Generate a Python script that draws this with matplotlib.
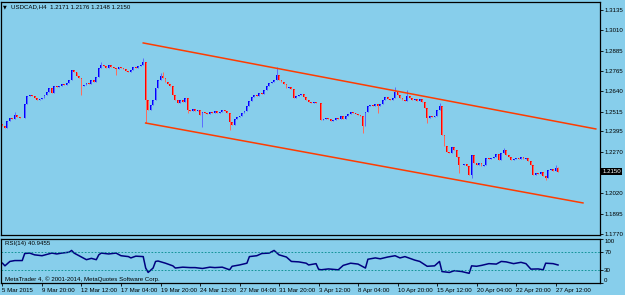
import numpy as np
import matplotlib.pyplot as plt
import matplotlib.transforms as mtransforms

# USDCAD H4 closes, one per bar (5 Mar 2015 .. 27 Apr 2015)
closes = [
    1.2428, 1.2416, 1.2458, 1.2477, 1.2470, 1.2495, 1.2483, 1.2477, 1.2477, 1.2562,
    1.2610, 1.2616, 1.2610, 1.2598, 1.2586, 1.2592, 1.2598, 1.2616, 1.2635, 1.2659,
    1.2629, 1.2671, 1.2665, 1.2671, 1.2683, 1.2677, 1.2689, 1.2708, 1.2768, 1.2756,
    1.2732, 1.2720, 1.2671, 1.2677, 1.2689, 1.2683, 1.2708, 1.2695, 1.2726, 1.2781,
    1.2799, 1.2793, 1.2781, 1.2799, 1.2787, 1.2781, 1.2774, 1.2787, 1.2781, 1.2774,
    1.2762, 1.2756, 1.2768, 1.2787, 1.2781, 1.2793, 1.2799, 1.2817, 1.2586, 1.2525,
    1.2556, 1.2586, 1.2659, 1.2708, 1.2732, 1.2720, 1.2695, 1.2683, 1.2671, 1.2616,
    1.2586, 1.2568, 1.2586, 1.2574, 1.2598, 1.2525, 1.2519, 1.2531, 1.2519, 1.2525,
    1.2495, 1.2513, 1.2507, 1.2501, 1.2513, 1.2507, 1.2519, 1.2507, 1.2513, 1.2525,
    1.2519, 1.2507, 1.2452, 1.2434, 1.2470, 1.2483, 1.2489, 1.2507, 1.2519, 1.2550,
    1.2580, 1.2604, 1.2616, 1.2610, 1.2629, 1.2622, 1.2647, 1.2671, 1.2689, 1.2695,
    1.2708, 1.2738, 1.2708, 1.2695, 1.2683, 1.2659, 1.2665, 1.2653, 1.2598, 1.2610,
    1.2616, 1.2622, 1.2604, 1.2586, 1.2574, 1.2568, 1.2574, 1.2568, 1.2568, 1.2464,
    1.2470, 1.2477, 1.2470, 1.2458, 1.2464, 1.2477, 1.2470, 1.2489, 1.2470, 1.2489,
    1.2501, 1.2513, 1.2507, 1.2501, 1.2495, 1.2489, 1.2428, 1.2513, 1.2550, 1.2556,
    1.2550, 1.2562, 1.2550, 1.2562, 1.2586, 1.2604, 1.2592, 1.2586, 1.2598, 1.2635,
    1.2616, 1.2598, 1.2586, 1.2580, 1.2610, 1.2598, 1.2586, 1.2592, 1.2580, 1.2592,
    1.2574, 1.2537, 1.2477, 1.2489, 1.2483, 1.2489, 1.2525, 1.2550, 1.2373, 1.2306,
    1.2270, 1.2264, 1.2300, 1.2282, 1.2239, 1.2191, 1.2191, 1.2197, 1.2185, 1.2130,
    1.2252, 1.2203, 1.2191, 1.2203, 1.2185, 1.2191, 1.2233, 1.2227, 1.2233, 1.2239,
    1.2258, 1.2221, 1.2264, 1.2282, 1.2252, 1.2239, 1.2221, 1.2227, 1.2233, 1.2227,
    1.2239, 1.2227, 1.2233, 1.2215, 1.2191, 1.2130, 1.2142, 1.2136, 1.2148, 1.2124,
    1.2112, 1.2160, 1.2166, 1.2154, 1.2171, 1.2150,
]
first_open = 1.2440

# bars whose high / low reach beyond the body
hi_bars = [5, 40, 57, 64, 65, 111, 159, 164, 177, 203, 224, 225]
hi_vals = [1.2513, 1.2817, 1.2841, 1.2750, 1.2756, 1.2787, 1.2665, 1.2647, 1.2568, 1.2294, 1.2191, 1.2176]
lo_bars = [32, 46, 58, 75, 81, 92, 146, 152, 172, 185, 190, 220, 225]
lo_vals = [1.2616, 1.2738, 1.2446, 1.2507, 1.2422, 1.2404, 1.2385, 1.2507, 1.2446, 1.2142, 1.2112, 1.2100, 1.2148]

# channel lines
up_bars = [57, 240.3]
up_vals = [1.2933, 1.2410]
lo_line_bars = [58, 235.1]
lo_line_vals = [1.2446, 1.1960]

# RSI(14)
rsi_bar = [0, 1, 3, 5, 8, 9, 11, 13, 16, 20, 22, 24, 27, 28, 29, 32, 34, 36, 38, 39,
           40, 43, 46, 48, 51, 52, 54, 57, 58, 59, 61, 62, 63, 66, 69, 70, 73, 76, 78, 81,
           84, 86, 89, 92, 93, 96, 99, 100, 103, 105, 108, 110, 112, 115, 117, 120, 123, 124, 127, 128,
           129, 132, 136, 138, 141, 144, 147, 148, 151, 153, 156, 159, 161, 163, 167, 169, 172, 175, 177, 178,
           181, 183, 186, 189, 190, 192, 194, 197, 200, 202, 204, 207, 210, 212, 214, 217, 219, 220, 223, 225]
rsi_val = [45, 39, 49, 51, 51, 67, 68, 64, 62, 68, 66, 68, 70, 74, 68, 59, 53, 56, 53, 64,
           68, 66, 68, 62, 60, 57, 61, 60, 34, 24, 34, 49, 50, 45, 39, 34, 36, 35, 35, 33,
           36, 35, 36, 30, 38, 41, 45, 60, 62, 67, 68, 74, 64, 59, 49, 48, 45, 41, 44, 31.5,
           30, 32, 30, 40, 45, 43, 34, 54, 57, 55, 59, 62, 57, 60, 52, 49, 38, 39, 49, 26,
           24, 28, 26, 22, 39, 38, 40, 44, 43, 49, 48, 44, 47, 44, 31.5, 32, 30, 45, 44, 40.9455]
rsi_levels = [70, 30]

price_ticks = [1.3135, 1.3010, 1.2885, 1.2765, 1.2640, 1.2515, 1.2395, 1.2270, 1.2020, 1.1895, 1.1770]
date_labels = ["5 Mar 2015", "9 Mar 20:00", "12 Mar 12:00", "17 Mar 04:00", "19 Mar 20:00",
               "24 Mar 12:00", "27 Mar 04:00", "31 Mar 20:00", "3 Apr 12:00", "8 Apr 04:00",
               "10 Apr 20:00", "15 Apr 12:00", "20 Apr 04:00", "22 Apr 20:00", "27 Apr 12:00"]
bars_per_label = 16

SKY = "#87CEEB"
FS = 4.4
plt.rcParams["font.family"] = ["Liberation Sans", "DejaVu Sans"]

c = np.array(closes)
o = np.concatenate([[first_open], c[:-1]])
idx = np.arange(len(c))
hi = np.maximum(o, c)
lo = np.minimum(o, c)
hi[hi_bars] = hi_vals
lo[lo_bars] = lo_vals
bull = c >= o
cols = np.where(bull, "#0000FF", "#FF0000")
wick_cols = np.where(bull, "#5A6BFF", "#FF6A5A")

fig = plt.figure(figsize=(6.25, 2.95), dpi=100, facecolor=SKY)
ax = fig.add_axes([1 / 625, 60 / 295, 599 / 625, 233 / 295], facecolor=SKY)
rs = fig.add_axes([1 / 625, 12 / 295, 599 / 625, 44 / 295], facecolor=SKY)

ax.vlines(idx, lo, hi, colors=wick_cols, lw=0.7)
ax.bar(idx, np.maximum(np.abs(c - o), 0.0002), bottom=np.minimum(o, c), width=0.75,
       color=cols, linewidth=0)
ax.plot(up_bars, up_vals, color="#FF3C00", lw=1.1)
ax.plot(lo_line_bars, lo_line_vals, color="#FF3C00", lw=1.1)

ax.set_xlim(-0.6, 242.0)
ax.set_ylim(1.1765, 1.3182)
ax.yaxis.tick_right()
ax.set_yticks(price_ticks)
ax.set_yticklabels([f"{v:.4f}" for v in price_ticks])
ax.tick_params(axis="y", labelsize=FS, length=2, width=0.6, pad=1, colors="black")
ax.set_xticks([])
trans = mtransforms.blended_transform_factory(ax.transAxes, ax.transData)
ax.text(1.0035, closes[-1], f"{closes[-1]:.4f}", transform=trans, fontsize=FS, color="white",
        va="center", ha="left", bbox=dict(facecolor="black", edgecolor="none", pad=0.8))
for s in ax.spines.values():
    s.set_linewidth(0.9)

rs.plot(rsi_bar, rsi_val, color="#000080", lw=1.1)
for lv in rsi_levels:
    rs.axhline(lv, color="#008B8B", lw=0.6, ls=(0, (2, 2)))
rs.set_xlim(-0.6, 242.0)
rs.set_ylim(0, 100)
rs.yaxis.tick_right()
rs.set_yticks([100, 70, 30, 0])
ylabs = rs.set_yticklabels(["100", "70", "30", "0"])
ylabs[0].set_va("top")
ylabs[3].set_va("bottom")
rs.tick_params(axis="y", labelsize=FS, length=2, width=0.6, pad=1)
rs.set_xticks([i * bars_per_label for i in range(len(date_labels))])
xl = rs.set_xticklabels(date_labels)
for t in xl:
    t.set_ha("left")
rs.tick_params(axis="x", labelsize=FS, length=2, width=0.6, pad=1.5)
for s in rs.spines.values():
    s.set_linewidth(0.9)

rs.text(0.006, 0.9, f"RSI(14) {rsi_val[-1]:.4f}", transform=rs.transAxes, fontsize=FS, va="center")
rs.text(0.006, 0.08, "MetaTrader 4, \u00a9 2001-2014, MetaQuotes Software Corp.",
        transform=rs.transAxes, fontsize=FS, va="center")

fig.text(3 / 625, 1 - 6.5 / 295, "\u25bc", fontsize=3.5, va="center", family="DejaVu Sans")
fig.text(11 / 625, 1 - 6.5 / 295,
         f"USDCAD,H4  {closes[-2]:.4f} {hi[-1]:.4f} {lo[-1]:.4f} {closes[-1]:.4f}",
         fontsize=FS, va="center")

fig.savefig("out.png", dpi=100, facecolor=SKY)
